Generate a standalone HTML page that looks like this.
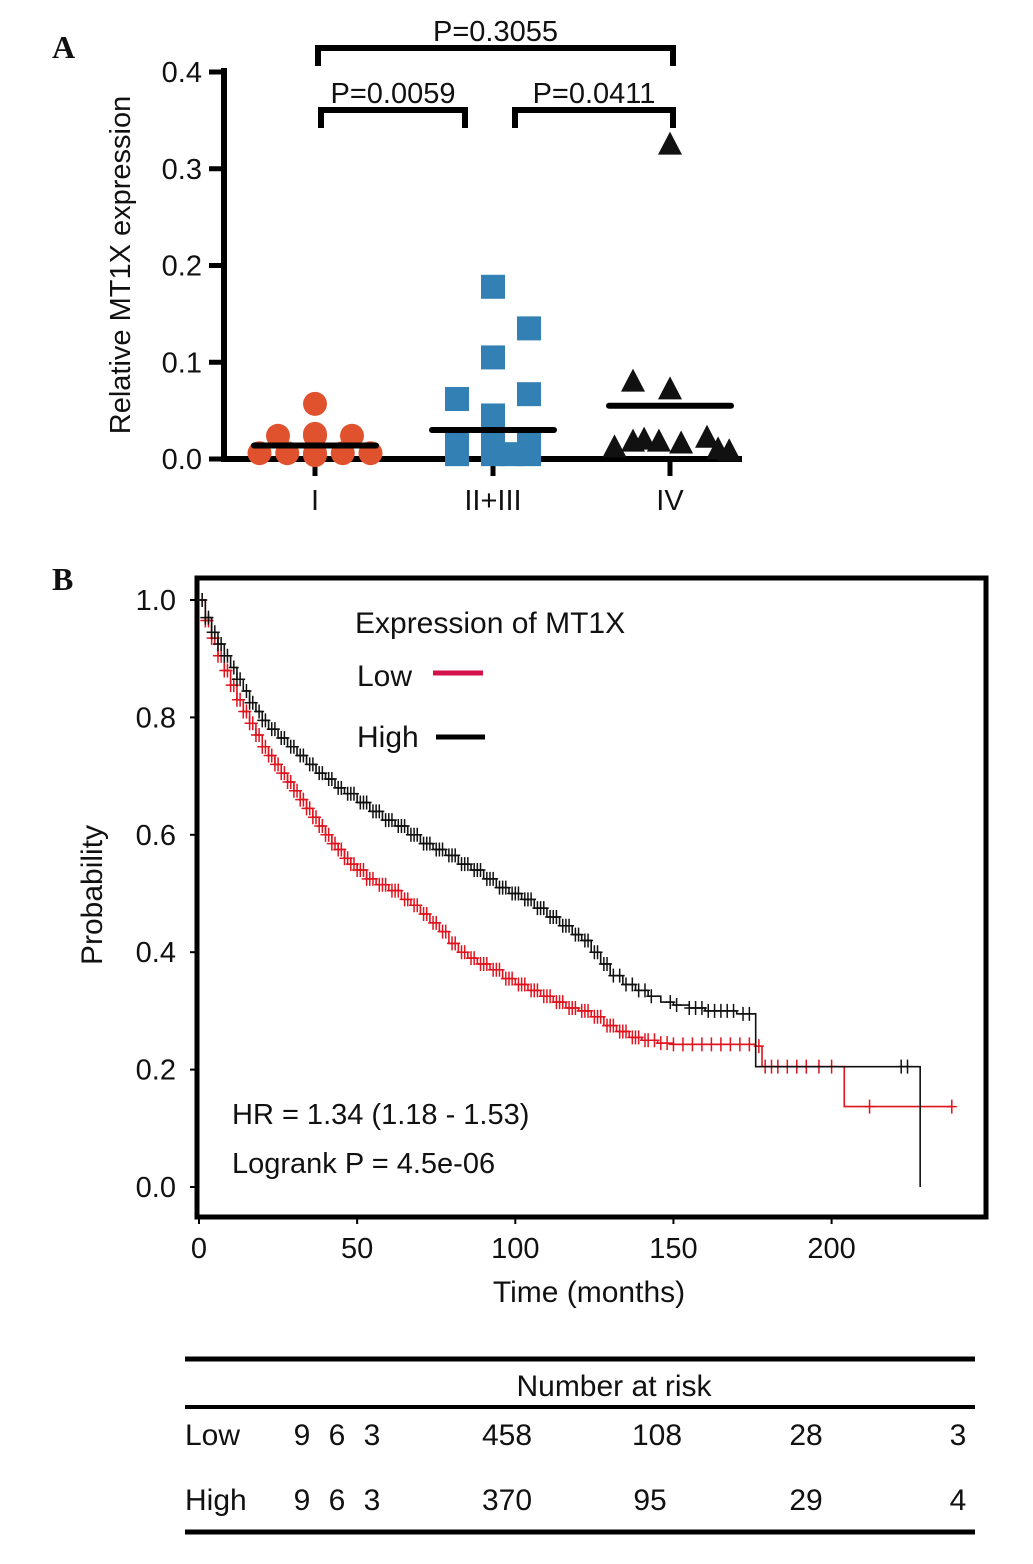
<!DOCTYPE html>
<html><head><meta charset="utf-8"><style>
body{margin:0;background:#fff}
svg text{font-family:"Liberation Sans",Arial,sans-serif;fill:#111}
svg text.plabel{font-family:"Liberation Serif","Times New Roman",serif;font-weight:bold}
</style></head><body>
<svg id="fig" width="1033" height="1559" viewBox="0 0 1033 1559" xmlns="http://www.w3.org/2000/svg">
<text class="plabel" x="52" y="58" font-size="32">A</text>
<text class="plabel" x="52" y="590" font-size="32">B</text>
<g id="pa"></g>
<g id="pb"></g>
<g font-size="30">
<line x1="185" y1="1359" x2="975" y2="1359" stroke="#000" stroke-width="5"/>
<line x1="185" y1="1407" x2="975" y2="1407" stroke="#000" stroke-width="4"/>
<line x1="185" y1="1532" x2="975" y2="1532" stroke="#000" stroke-width="5"/>
<text x="614" y="1396" text-anchor="middle">Number at risk</text>
<text x="185" y="1445">Low</text>
<text x="185" y="1510">High</text>
<g>
<text x="302" y="1445" text-anchor="middle">9</text><text x="337" y="1445" text-anchor="middle">6</text><text x="372" y="1445" text-anchor="middle">3</text>
<text x="507" y="1445" text-anchor="middle">458</text><text x="657" y="1445" text-anchor="middle">108</text><text x="806" y="1445" text-anchor="middle">28</text><text x="958" y="1445" text-anchor="middle">3</text></g>
<g>
<text x="302" y="1510" text-anchor="middle">9</text><text x="337" y="1510" text-anchor="middle">6</text><text x="372" y="1510" text-anchor="middle">3</text>
<text x="507" y="1510" text-anchor="middle">370</text><text x="650" y="1510" text-anchor="middle">95</text><text x="806" y="1510" text-anchor="middle">29</text><text x="958" y="1510" text-anchor="middle">4</text></g>
</g>
</svg>
<script>
// Panel A data
const groupsA = ["I", "II+III", "IV"];
const groupIVals = [0.057,0.024,0.024,0.024,0.026,0.006,0.006,0.006,0.006,0.006,0.004];
const groupIXOff = [0,-1,0,1,0,-1.5,-0.75,0,0.75,1.5,0];
const groupIIVals = [0.178,0.135,0.105,0.067,0.062,0.045,0.018,0.018,0.018,0.005,0.005,0.005,0.005];
const groupIIXOff = [0,1,0,1,-1,0,-1,0,1,-1,0,1,0.5];
const groupIVVals = [0.325,0.08,0.072,0.012,0.018,0.02,0.018,0.016,0.022,0.01,0.008];
const groupIVXOff = [0,-1,0,-1.5,-1.0,-0.7,-0.3,0.3,1.0,1.3,1.6];
const meansA = [0.014,0.030,0.055];
const yTicksA = [0,0.1,0.2,0.3,0.4];
const pLabels = ["P=0.0059","P=0.0411","P=0.3055"];
// Panel B data
const highT = [0,2,4,6,8,10,12,14,16,18,20,22,25,28,31,34,37,40,43,46,50,54,58,62,66,70,74,78,82,86,90,94,98,102,106,110,114,118,121,124,127,130,134,138,142,146,150,155,160,170,176,228,228];
const highS = [1,0.97,0.945,0.925,0.905,0.885,0.865,0.845,0.825,0.81,0.795,0.78,0.765,0.75,0.735,0.72,0.705,0.695,0.68,0.67,0.655,0.64,0.625,0.615,0.6,0.585,0.575,0.565,0.55,0.54,0.525,0.51,0.5,0.49,0.475,0.46,0.445,0.43,0.42,0.40,0.38,0.36,0.345,0.335,0.325,0.315,0.31,0.305,0.30,0.295,0.205,0.205,0];
const lowT = [0,2,4,6,8,10,12,14,16,18,20,22,24,26,28,30,32,34,36,38,40,42,44,46,48,50,53,56,60,64,67,70,73,76,79,82,85,88,92,96,100,104,108,112,116,120,124,128,132,136,140,145,150,176,178,204,204,238];
const lowS = [1,0.965,0.935,0.905,0.88,0.855,0.83,0.81,0.79,0.77,0.75,0.735,0.72,0.705,0.69,0.675,0.66,0.645,0.63,0.615,0.6,0.585,0.575,0.56,0.55,0.54,0.525,0.515,0.505,0.49,0.48,0.465,0.45,0.435,0.415,0.40,0.39,0.38,0.37,0.355,0.345,0.335,0.325,0.315,0.305,0.30,0.29,0.275,0.265,0.255,0.25,0.245,0.243,0.24,0.205,0.205,0.137,0.137];
const highCens = [1,2,3,4,5,6,7,8,9,11,12,13,15,16,17,19,20,21,23,24,26,27,29,30,32,33,35,36,38,39,41,42,44,45,47,48,49,51,52,53,55,56,57,59,60,61,63,64,65,67,68,69,71,72,73,75,76,77,79,80,81,83,84,85,87,88,89,91,92,93,95,96,97,99,100,101,103,104,105,107,108,109,111,112,113,115,116,117,119,120,122,123,125,126,128,129,131,133,135,137,139,141,143,149,151,155,157,159,161,163,165,167,169,172,174,222,224];
const lowCens = [1,2,3,4,5,6,7,8,9,10,11,12,13,14,15,16,17,18,19,20,21,22,23,24,25,26,27,28,29,30,31,32,33,34,35,36,37,38,39,40,41,42,43,44,45,46,47,48,49,50,51,52,53,54,55,57,58,59,61,62,63,65,66,68,69,71,72,74,75,77,78,80,81,83,84,86,87,89,90,91,93,94,95,97,98,99,101,102,103,105,106,107,109,110,111,113,114,115,117,118,119,121,122,123,125,126,127,129,130,131,133,134,135,137,138,139,141,142,144,146,148,150,153,156,159,162,165,168,171,174,177,179,181,183,186,189,192,196,200,212,238];
const xTicksB = [0,50,100,150,200];
const yTicksB = [0,0.2,0.4,0.6,0.8,1.0];

const NS="http://www.w3.org/2000/svg";
function mk(parent,tag,attrs,txt){const e=document.createElementNS(NS,tag);for(const k in attrs)e.setAttribute(k,attrs[k]);if(txt!==undefined)e.textContent=txt;parent.appendChild(e);return e;}

// ---- Panel A ----
const pa=document.getElementById('pa');
const yA=v=>459-v*967.5;
const xA=i=>[315,493,670][i];
let e=mk(pa,'line',{x1:224,y1:68,x2:224,y2:461,stroke:'#000','stroke-width':6});


e=mk(pa,'line',{x1:221,y1:459,x2:742,y2:459,stroke:'#000','stroke-width':6});


yTicksA.forEach(v=>{
  mk(pa,'line',{x1:209,y1:yA(v),x2:224,y2:yA(v),stroke:'#000','stroke-width':5});
  e=mk(pa,'text',{x:202,y:yA(v)+10,'text-anchor':'end','font-size':29},v.toFixed(1));
  
  
});
e=mk(pa,'text',{x:0,y:0,'font-size':29,'text-anchor':'middle',transform:'translate(130,265) rotate(-90)'},'Relative MT1X expression');


groupsA.forEach((g,i)=>{
  mk(pa,'line',{x1:xA(i),y1:459,x2:xA(i),y2:476,stroke:'#000','stroke-width':5});
  e=mk(pa,'text',{x:xA(i),y:510,'text-anchor':'middle','font-size':29},g);
  
  
});
groupIVals.forEach((v,k)=>{
  e=mk(pa,'circle',{cx:xA(0)+groupIXOff[k]*37,cy:yA(v),r:12,fill:'#e0522e'});
  
  
});
groupIIVals.forEach((v,k)=>{
  e=mk(pa,'rect',{x:xA(1)+groupIIXOff[k]*36-12,y:yA(v)-12,width:24,height:24,fill:'#3280b4'});
  
  
});
groupIVVals.forEach((v,k)=>{
  const cx=xA(2)+groupIVXOff[k]*37,cy=yA(v);
  e=mk(pa,'polygon',{points:`${cx},${cy-13} ${cx-12},${cy+10} ${cx+12},${cy+10}`,fill:'#111'});
  
  
});
meansA.forEach((m,i)=>{
  e=mk(pa,'line',{x1:xA(i)-61,y1:yA(m),x2:xA(i)+61,y2:yA(m),stroke:'#000','stroke-width':6,'stroke-linecap':'round'});
  
  
});
[[321,465,128,pLabels[0]],[515,673,128,pLabels[1]],[318,673,66,pLabels[2]]].forEach(b=>{
  e=mk(pa,'path',{d:`M${b[0]},${b[2]} V${b[2]-18} H${b[1]} V${b[2]}`,fill:'none',stroke:'#000','stroke-width':6});
  
  
  e=mk(pa,'text',{x:(b[0]+b[1])/2,y:b[2]-25,'text-anchor':'middle','font-size':29},b[3]);
  
  
});

// ---- Panel B ----
const pb=document.getElementById('pb');
const xB=t=>199+t*3.163;
const yB=s=>1187-s*587;
e=mk(pb,'rect',{x:197,y:578,width:789,height:639,fill:'none',stroke:'#000','stroke-width':5});


yTicksB.forEach(v=>{
  mk(pb,'line',{x1:190,y1:yB(v),x2:197,y2:yB(v),stroke:'#000','stroke-width':2});
  e=mk(pb,'text',{x:176,y:yB(v)+10,'text-anchor':'end','font-size':29},v.toFixed(1));
  
  
});
xTicksB.forEach(v=>{
  mk(pb,'line',{x1:xB(v),y1:1217,x2:xB(v),y2:1224,stroke:'#000','stroke-width':2});
  e=mk(pb,'text',{x:xB(v),y:1258,'text-anchor':'middle','font-size':29},String(v));
  
  
});
e=mk(pb,'text',{x:589,y:1302,'text-anchor':'middle','font-size':30},'Time (months)');


e=mk(pb,'text',{x:0,y:0,'font-size':30,'text-anchor':'middle',transform:'translate(102,895) rotate(-90)'},'Probability');


function surv(T,S,t){let s=S[0];for(let i=0;i<T.length;i++){if(T[i]<=t)s=S[i];}return s;}
function drawKM(T,S,C,col,name){
  let d=`M${xB(T[0])},${yB(S[0])}`;
  for(let i=1;i<T.length;i++){d+=` H${xB(T[i])} V${yB(S[i])}`;}
  const p=mk(pb,'path',{d:d,fill:'none',stroke:col,'stroke-width':1.6});
  
  
  C.forEach(t=>{
    const s=surv(T,S,t);
    const c=mk(pb,'path',{d:`M${xB(t)},${yB(s)-7} V${yB(s)+7} M${xB(t)-5},${yB(s)} H${xB(t)+5}`,stroke:col,'stroke-width':1.5,fill:'none'});
    
    
  });
}
drawKM(lowT,lowS,lowCens,'#e0141e','low');
drawKM(highT,highS,highCens,'#111','high');
e=mk(pb,'text',{x:355,y:633,'font-size':30},'Expression of MT1X');


e=mk(pb,'text',{x:357,y:686,'font-size':30},'Low');


e=mk(pb,'line',{x1:433,y1:673,x2:483,y2:673,stroke:'#d4114a','stroke-width':5});


e=mk(pb,'text',{x:357,y:747,'font-size':30},'High');


e=mk(pb,'line',{x1:436,y1:737,x2:485,y2:737,stroke:'#000','stroke-width':5});


e=mk(pb,'text',{x:232,y:1124,'font-size':29},'HR = 1.34 (1.18 - 1.53)');


e=mk(pb,'text',{x:232,y:1173,'font-size':29},'Logrank P = 4.5e-06');


</script>
</body></html>
